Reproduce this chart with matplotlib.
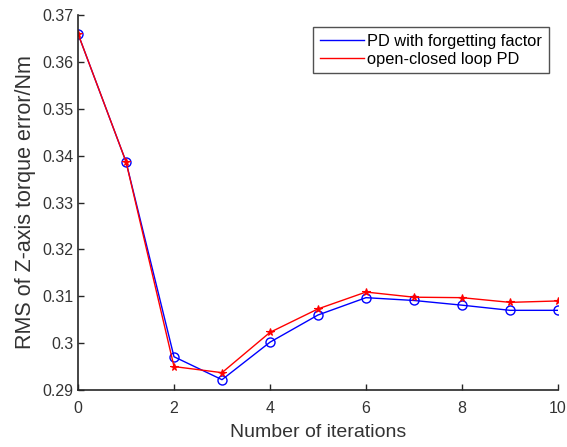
import numpy as np
import matplotlib.pyplot as plt
from matplotlib.lines import Line2D

plt.rcParams['font.family'] = ['Liberation Sans', 'DejaVu Sans']

# RMS of Z-axis torque error per iteration
iterations = np.arange(0, 11)
pd_forgetting = [0.3660, 0.3387, 0.2971, 0.2922, 0.3002, 0.3060, 0.3097, 0.3091, 0.3081, 0.3070, 0.3070]
open_closed_pd = [0.3660, 0.3387, 0.2950, 0.2937, 0.3023, 0.3073, 0.3109, 0.3098, 0.3097, 0.3087, 0.3090]

fig = plt.figure(figsize=(5.67, 4.47), dpi=100)
ax = fig.add_axes([0.1376, 0.1275, 0.8464, 0.8389])

ax.plot(iterations, pd_forgetting, 'b-o', lw=1, ms=6.5, mfc='none', mew=1)
ax.plot(iterations, open_closed_pd, 'r-*', lw=1, ms=5.5, mew=0.8)

ax.set_xlim(0, 10)
ax.set_ylim(0.29, 0.37)
ax.set_xticks([0, 2, 4, 6, 8, 10])
ax.set_yticks(np.arange(0.29, 0.3701, 0.01))
ax.set_yticklabels(['0.29', '0.3', '0.31', '0.32', '0.33', '0.34', '0.35', '0.36', '0.37'])

for s in ['top', 'right']:
    ax.spines[s].set_visible(False)
for s in ['left', 'bottom']:
    ax.spines[s].set_color('#262626')
    ax.spines[s].set_linewidth(1.2)
ax.tick_params(direction='in', length=4, width=1, colors='#262626',
               labelsize=11.5, labelcolor='#333333')
ax.tick_params(axis='x', pad=8)

ax.set_xlabel('Number of iterations', fontsize=14, color='#333333', labelpad=6)
ax.set_ylabel('RMS of Z-axis torque error/Nm', fontsize=15.5, color='#333333', labelpad=4)

handles = [Line2D([], [], color='b', lw=1), Line2D([], [], color='r', lw=1)]
leg = ax.legend(handles, ['PD with forgetting factor', 'open-closed loop PD'],
                loc='upper right', bbox_to_anchor=(0.981, 0.968), fontsize=11.8,
                frameon=True, fancybox=False, edgecolor='#262626',
                handlelength=2.7, handletextpad=0.2, borderpad=0.4,
                labelspacing=0.2, borderaxespad=0.0)
leg.get_frame().set_linewidth(1.0)

fig.savefig('out.png', dpi=100)
